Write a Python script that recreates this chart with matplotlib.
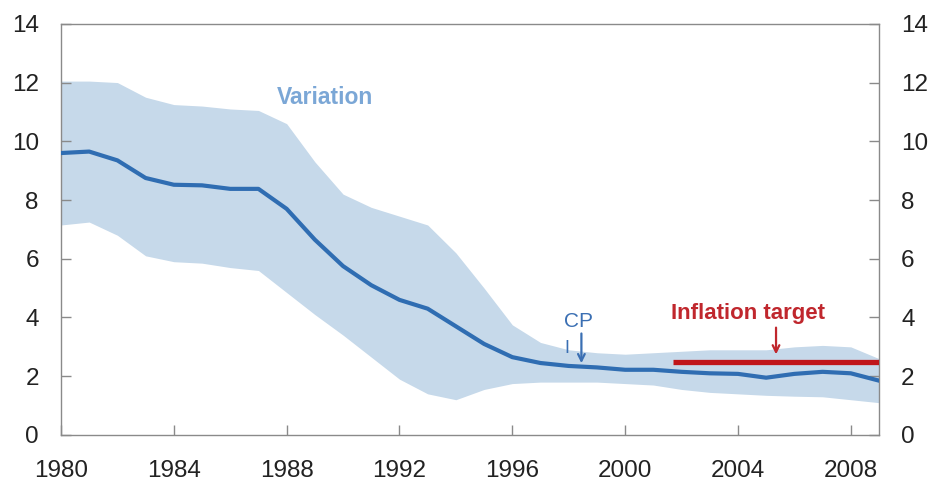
import matplotlib
matplotlib.use("Agg")
import matplotlib.pyplot as plt
import numpy as np

plt.rcParams['font.family'] = ['Liberation Sans', 'DejaVu Sans']

years = list(range(1980, 2010))
mid = [9.6, 9.65, 9.35, 8.75, 8.52, 8.5, 8.38, 8.38, 7.7, 6.65,
       5.75, 5.1, 4.6, 4.3, 3.7, 3.1, 2.65, 2.45, 2.35, 2.3,
       2.22, 2.22, 2.15, 2.1, 2.08, 1.95, 2.08, 2.15, 2.1, 1.85]
upper = [12.05, 12.05, 12.0, 11.5, 11.25, 11.2, 11.1, 11.05, 10.6, 9.3,
         8.2, 7.75, 7.45, 7.15, 6.2, 5.0, 3.75, 3.15, 2.9, 2.8,
         2.75, 2.8, 2.85, 2.9, 2.9, 2.9, 3.0, 3.05, 3.0, 2.6]
lower = [7.15, 7.25, 6.8, 6.1, 5.9, 5.85, 5.7, 5.6, 4.85, 4.1,
         3.4, 2.65, 1.9, 1.4, 1.2, 1.55, 1.75, 1.8, 1.8, 1.8,
         1.75, 1.7, 1.55, 1.45, 1.4, 1.35, 1.32, 1.3, 1.2, 1.1]
target_years = [2001.7, 2009]
target_value = [2.5, 2.5]
xtick_years = [1980, 1984, 1988, 1992, 1996, 2000, 2004, 2008]
yticks = [0, 2, 4, 6, 8, 10, 12, 14]

fig = plt.figure(figsize=(9.34, 4.86), dpi=100)
ax = fig.add_axes([0.0653, 0.105, 0.8758, 0.846])

ax.fill_between(years, lower, upper, color='#c6d9ea', lw=0, zorder=1)
ax.plot(years, mid, color='#2f6db2', lw=3, zorder=3, solid_joinstyle='round')
ax.plot(target_years, target_value, color='#c0161b', lw=3.8, zorder=4,
        solid_capstyle='butt')

ax.set_xlim(1980, 2009)
ax.set_ylim(0, 14)
ax.set_xticks(xtick_years)
ax.set_yticks(yticks)

for s in ax.spines.values():
    s.set_color('#8a8a8a')
    s.set_linewidth(1.0)

ax.tick_params(axis='y', direction='in', length=7, width=1, color='#8a8a8a',
               left=True, right=True, labelleft=True, labelright=True,
               labelsize=17.5, labelcolor='#222222', pad=16)
ax.tick_params(axis='x', direction='in', length=7, width=1, color='#8a8a8a',
               labelsize=17.5, labelcolor='#222222', pad=18)

ax.text(1989.36, 11.5, 'Variation', color='#7ba7d6', fontsize=16.5,
        fontweight='bold', ha='center', va='center', zorder=5)

ax.text(1998.35, 3.88, 'CP', color='#3a6fb3', fontsize=15, ha='center',
        va='center', zorder=5)
ax.text(1997.95, 2.95, 'I', color='#3a6fb3', fontsize=13, ha='center',
        va='center', zorder=5)
ax.annotate('', xy=(1998.45, 2.35), xytext=(1998.45, 3.55),
            arrowprops=dict(arrowstyle='->', color='#3a6fb3', lw=1.6,
                            mutation_scale=12), zorder=5)

ax.text(2004.35, 4.15, 'Inflation target', color='#c0272d', fontsize=16,
        fontweight='bold', ha='center', va='center', zorder=5)
ax.annotate('', xy=(2005.35, 2.65), xytext=(2005.35, 3.75),
            arrowprops=dict(arrowstyle='->', color='#c0272d', lw=1.6,
                            mutation_scale=12), zorder=5)

fig.savefig('out.png', dpi=100)
